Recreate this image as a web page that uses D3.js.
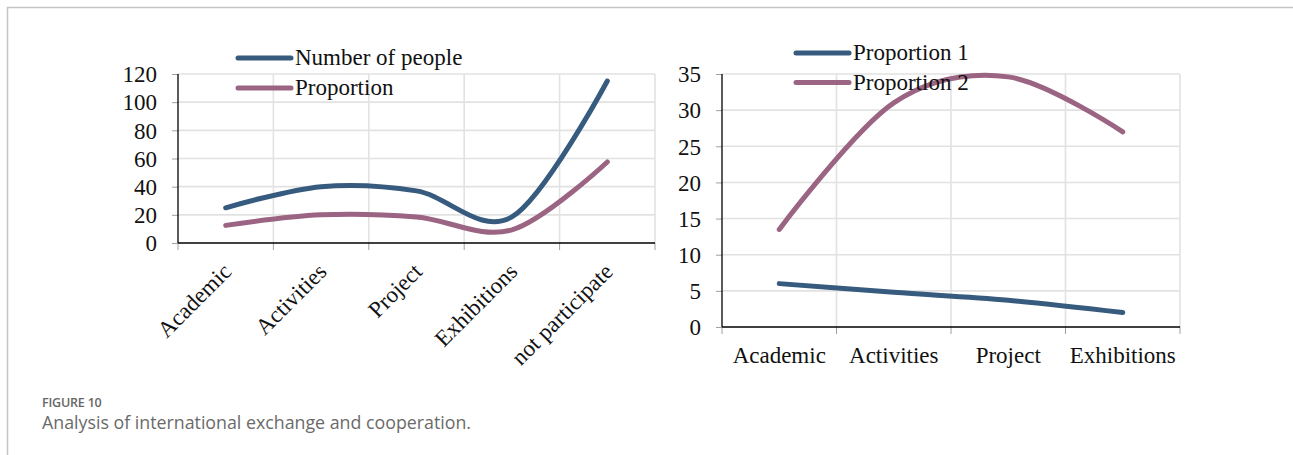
<!DOCTYPE html>
<html>
<head>
<meta charset="utf-8">
<script src="https://cdn.jsdelivr.net/npm/d3@7"></script>
<style>
  html, body { margin: 0; padding: 0; background: #fff; }
  svg { display: block; }
</style>
</head>
<body>
<svg id="chart" width="1293" height="455"></svg>
<script>
// ---------- data ----------
const leftCategories = ["Academic", "Activities", "Project", "Exhibitions", "not participate"];
const leftSeriesNames = ["Number of people", "Proportion"];
const numberOfPeople = [25, 40, 37, 18.5, 115];
const proportion = [12.5, 20, 18.5, 9.3, 57.5];
const leftTicks = [0, 20, 40, 60, 80, 100, 120];

const rightCategories = ["Academic", "Activities", "Project", "Exhibitions"];
const rightSeriesNames = ["Proportion 1", "Proportion 2"];
const proportion1 = [6, 4.8, 3.7, 2];
const proportion2 = [13.5, 31, 34.6, 27];
const rightTicks = [0, 5, 10, 15, 20, 25, 30, 35];

const captionLabel = "FIGURE 10";
const captionText = "Analysis of international exchange and cooperation.";

// ---------- style ----------
const BLUE = "#365b7e";
const PINK = "#9a6482";
const GRID = "#e2e2e2";
const FONT = "'Liberation Serif', 'Times New Roman', serif";
const FS = 23;

const svg = d3.select("#chart");

// frame
svg.append("path")
  .attr("d", "M7.5,455 L7.5,7.5 L1293,7.5")
  .attr("fill", "none").attr("stroke", "#c4c4c4").attr("stroke-width", 1.5);

function drawChart(cfg) {
  const g = svg.append("g");
  const x = d3.scaleBand().domain(cfg.categories).range([cfg.x0, cfg.x1]);
  const y = d3.scaleLinear().domain([0, d3.max(cfg.ticks)]).range([cfg.y0, cfg.y1]);

  // horizontal gridlines
  g.append("g").selectAll("line").data(cfg.ticks.filter(t => t > 0)).join("line")
    .attr("x1", cfg.x0).attr("x2", cfg.x1)
    .attr("y1", d => y(d)).attr("y2", d => y(d))
    .attr("stroke", GRID).attr("stroke-width", 1.6);

  // vertical gridlines at band boundaries
  const bounds = cfg.categories.map(c => x(c)).concat([cfg.x1]);
  g.append("g").selectAll("line").data(bounds.slice(1)).join("line")
    .attr("x1", d => d).attr("x2", d => d)
    .attr("y1", cfg.y1).attr("y2", cfg.y0)
    .attr("stroke", GRID).attr("stroke-width", 1.6);

  // x tick marks
  g.append("g").selectAll("line").data(bounds).join("line")
    .attr("x1", d => d).attr("x2", d => d)
    .attr("y1", cfg.y0).attr("y2", cfg.y0 + 7)
    .attr("stroke", "#a0a0a0").attr("stroke-width", 1);

  // y axis with ticks
  const yAxis = d3.axisLeft(y).tickValues(cfg.ticks).tickSize(6).tickPadding(15).tickFormat(d3.format("d"));
  const ya = g.append("g").attr("transform", `translate(${cfg.x0},0)`).call(yAxis);
  ya.select(".domain").remove();
  ya.selectAll(".tick line").attr("stroke", "#a0a0a0");
  ya.selectAll(".tick text").attr("font-family", FONT).attr("font-size", FS).attr("fill", "#111").attr("dy", "0.34em");

  // axis lines
  g.append("line").attr("x1", cfg.x0).attr("x2", cfg.x0).attr("y1", cfg.y1).attr("y2", cfg.y0)
    .attr("stroke", "#000").attr("stroke-width", 1.3);
  g.append("line").attr("x1", cfg.x0).attr("x2", cfg.x1).attr("y1", cfg.y0).attr("y2", cfg.y0)
    .attr("stroke", "#000").attr("stroke-width", 1.3);

  // lines
  const line = d3.line()
    .x((d, i) => x(cfg.categories[i]) + x.bandwidth() / 2)
    .y(d => y(d))
    .curve(d3.curveCatmullRom.alpha(0));
  cfg.series.forEach(s => {
    g.append("path").datum(s.values)
      .attr("d", line)
      .attr("fill", "none").attr("stroke", s.color).attr("stroke-width", 5)
      .attr("stroke-linecap", "round").attr("stroke-linejoin", "round");
  });

  // x labels
  if (cfg.rotate) {
    g.append("g").selectAll("text").data(cfg.categories).join("text")
      .attr("transform", d => `translate(${x(d) + x.bandwidth() / 2 + 7},${cfg.y0 + 30}) rotate(-45)`)
      .attr("text-anchor", "end")
      .attr("font-family", FONT).attr("font-size", FS).attr("fill", "#111")
      .text(d => d);
  } else {
    g.append("g").selectAll("text").data(cfg.categories).join("text")
      .attr("x", d => x(d) + x.bandwidth() / 2)
      .attr("y", cfg.y0 + 36)
      .attr("text-anchor", "middle")
      .attr("font-family", FONT).attr("font-size", FS).attr("fill", "#111")
      .text(d => d);
  }

  // legend
  const lg = g.append("g");
  cfg.series.forEach((s, i) => {
    const ly = cfg.legendY + i * cfg.legendStep;
    lg.append("line").attr("x1", cfg.legendX).attr("x2", cfg.legendX + 53)
      .attr("y1", ly).attr("y2", ly)
      .attr("stroke", s.color).attr("stroke-width", 5).attr("stroke-linecap", "round");
    lg.append("text").attr("x", cfg.legendX + 57).attr("y", ly + 7)
      .attr("font-family", FONT).attr("font-size", FS).attr("fill", "#111")
      .text(s.name);
  });
}

drawChart({
  categories: leftCategories, ticks: leftTicks,
  x0: 178, x1: 655, y0: 243, y1: 74,
  rotate: true,
  legendX: 238, legendY: 58, legendStep: 30,
  series: [
    { name: leftSeriesNames[0], values: numberOfPeople, color: BLUE },
    { name: leftSeriesNames[1], values: proportion, color: PINK }
  ]
});

drawChart({
  categories: rightCategories, ticks: rightTicks,
  x0: 722, x1: 1180, y0: 327, y1: 74,
  rotate: false,
  legendX: 796, legendY: 53, legendStep: 29.5,
  series: [
    { name: rightSeriesNames[0], values: proportion1, color: BLUE },
    { name: rightSeriesNames[1], values: proportion2, color: PINK }
  ]
});

// caption
svg.append("text").attr("x", 42).attr("y", 407)
  .attr("font-family", "'Open Sans', 'Noto Sans', sans-serif").attr("font-size", 12.5).attr("font-weight", 600)
  .attr("letter-spacing", -0.2)
  .attr("fill", "#666").text(captionLabel);
svg.append("text").attr("x", 42).attr("y", 429)
  .attr("font-family", "'Open Sans', 'Noto Sans', sans-serif").attr("font-size", 17.8)
  .attr("fill", "#6a6a6a").text(captionText);
</script>
</body>
</html>
